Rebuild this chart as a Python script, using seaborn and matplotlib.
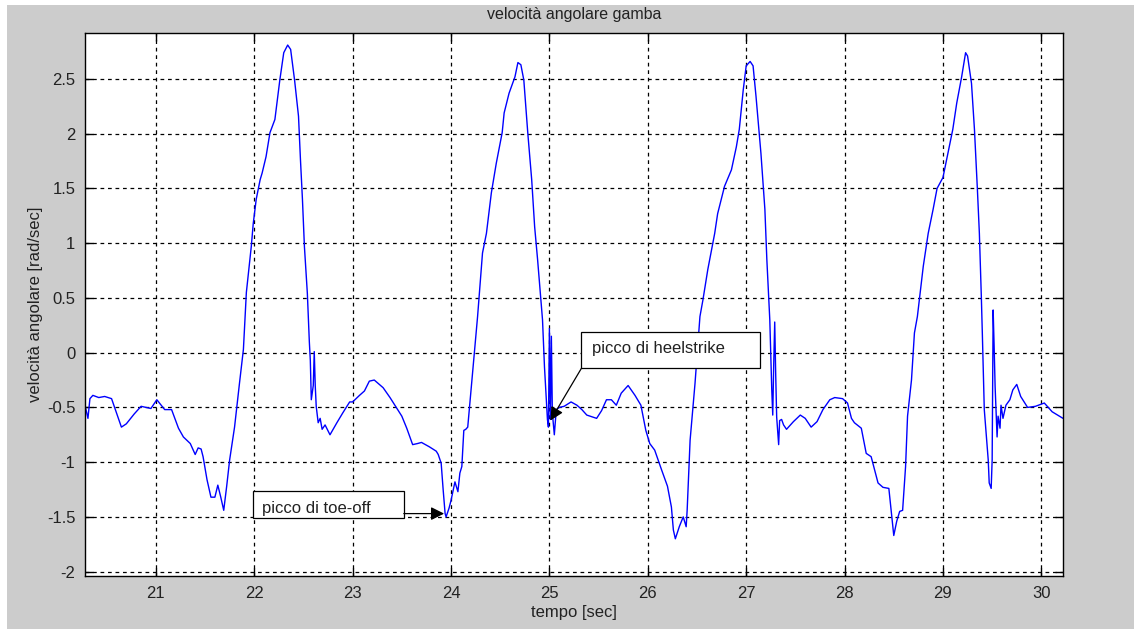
import numpy as np
import pandas as pd
import matplotlib
matplotlib.use('Agg')
import matplotlib.pyplot as plt
from matplotlib.patches import Rectangle
import seaborn as sns

# tempo [sec] e velocita angolare [rad/sec]
tempo = [20.28, 20.31, 20.33, 20.36, 20.42, 20.48, 20.55, 20.60, 20.65, 20.70,
         20.78, 20.85, 20.95, 21.01, 21.09, 21.16, 21.23, 21.28, 21.35, 21.40,
         21.43, 21.46, 21.48, 21.52, 21.56, 21.60, 21.63, 21.66, 21.69, 21.72,
         21.75, 21.80, 21.85, 21.89, 21.92, 21.97, 21.99, 22.02, 22.06, 22.08,
         22.12, 22.16, 22.21, 22.26, 22.30, 22.34, 22.37, 22.41, 22.45, 22.47,
         22.49, 22.51, 22.54, 22.56, 22.57, 22.58, 22.60, 22.61, 22.62, 22.63,
         22.65, 22.67, 22.69, 22.72, 22.77, 22.84, 22.90, 22.97, 23.00, 23.07,
         23.12, 23.17, 23.22, 23.31, 23.38, 23.45, 23.50, 23.55, 23.61, 23.66,
         23.70, 23.78, 23.85, 23.87, 23.90, 23.92, 23.94, 23.95, 23.98, 24.00,
         24.04, 24.07, 24.09, 24.11, 24.13, 24.15, 24.17, 24.21, 24.24, 24.27,
         24.32, 24.36, 24.41, 24.46, 24.52, 24.54, 24.59, 24.65, 24.68, 24.71,
         24.74, 24.78, 24.82, 24.85, 24.88, 24.93, 24.95, 24.98, 24.99, 25.00,
         25.01, 25.02, 25.03, 25.05, 25.07, 25.10, 25.15, 25.22, 25.28, 25.33,
         25.38, 25.48, 25.53, 25.58, 25.63, 25.68, 25.73, 25.80, 25.87, 25.93,
         25.98, 26.02, 26.07, 26.14, 26.20, 26.24, 26.26, 26.28, 26.32, 26.36,
         26.39, 26.40, 26.43, 26.48, 26.53, 26.56, 26.61, 26.68, 26.71, 26.78,
         26.85, 26.90, 26.93, 26.97, 27.00, 27.04, 27.07, 27.10, 27.15, 27.19,
         27.21, 27.24, 27.26, 27.27, 27.28, 27.29, 27.30, 27.31, 27.33, 27.34,
         27.36, 27.38, 27.41, 27.48, 27.55, 27.60, 27.66, 27.72, 27.78, 27.85,
         27.90, 27.98, 28.03, 28.07, 28.10, 28.17, 28.22, 28.27, 28.34, 28.39,
         28.45, 28.48, 28.50, 28.53, 28.56, 28.59, 28.62, 28.64, 28.68, 28.71,
         28.74, 28.80, 28.85, 28.90, 28.94, 29.00, 29.05, 29.10, 29.14, 29.19,
         29.23, 29.25, 29.29, 29.32, 29.35, 29.37, 29.39, 29.40, 29.42, 29.46,
         29.47, 29.49, 29.50, 29.51, 29.52, 29.53, 29.55, 29.56, 29.58, 29.59,
         29.61, 29.64, 29.68, 29.71, 29.75, 29.79, 29.86, 29.94, 30.03, 30.11,
         30.22]
velocita = [-0.48, -0.60, -0.42, -0.39, -0.41, -0.40, -0.42, -0.55, -0.68, -0.65,
            -0.56, -0.49, -0.51, -0.43, -0.52, -0.52, -0.69, -0.77, -0.83, -0.93,
            -0.87, -0.88, -0.95, -1.16, -1.32, -1.32, -1.21, -1.32, -1.44, -1.22,
            -0.98, -0.68, -0.28, 0.03, 0.55, 0.97, 1.18, 1.40, 1.58, 1.64,
            1.79, 2.01, 2.13, 2.49, 2.74, 2.81, 2.77, 2.49, 2.16, 1.76,
            1.40, 0.97, 0.54, 0.10, -0.07, -0.43, -0.30, 0.01, -0.30, -0.49,
            -0.64, -0.60, -0.70, -0.66, -0.75, -0.64, -0.55, -0.45, -0.45, -0.39,
            -0.35, -0.26, -0.25, -0.32, -0.41, -0.51, -0.58, -0.69, -0.84, -0.83,
            -0.82, -0.86, -0.90, -0.93, -1.01, -1.25, -1.47, -1.50, -1.42, -1.35,
            -1.18, -1.27, -1.10, -1.04, -0.71, -0.70, -0.68, -0.28, 0.03, 0.33,
            0.91, 1.09, 1.46, 1.73, 2.01, 2.19, 2.37, 2.52, 2.65, 2.63,
            2.49, 2.01, 1.58, 1.15, 0.85, 0.30, -0.13, -0.61, -0.68, 0.22,
            -0.61, 0.15, -0.55, -0.75, -0.52, -0.50, -0.49, -0.45, -0.48, -0.52,
            -0.57, -0.60, -0.53, -0.43, -0.43, -0.48, -0.37, -0.30, -0.39, -0.48,
            -0.71, -0.83, -0.89, -1.07, -1.22, -1.41, -1.62, -1.70, -1.59, -1.50,
            -1.59, -1.44, -0.80, -0.28, 0.33, 0.48, 0.76, 1.09, 1.27, 1.52,
            1.67, 1.88, 2.04, 2.40, 2.62, 2.66, 2.62, 2.34, 1.82, 1.31,
            0.85, 0.30, -0.34, -0.57, -0.10, 0.28, -0.20, -0.59, -0.84, -0.62,
            -0.61, -0.66, -0.70, -0.63, -0.57, -0.60, -0.68, -0.63, -0.52, -0.43,
            -0.41, -0.42, -0.46, -0.60, -0.64, -0.69, -0.92, -0.95, -1.19, -1.23,
            -1.24, -1.50, -1.67, -1.54, -1.45, -1.44, -1.04, -0.58, -0.25, 0.18,
            0.33, 0.79, 1.09, 1.31, 1.50, 1.60, 1.82, 2.04, 2.28, 2.52,
            2.74, 2.71, 2.46, 2.04, 1.49, 1.09, 0.51, 0.18, -0.52, -0.98,
            -1.19, -1.24, -0.98, 0.39, 0.06, -0.31, -0.77, -0.58, -0.69, -0.48,
            -0.60, -0.48, -0.43, -0.34, -0.29, -0.40, -0.50, -0.49, -0.46, -0.54,
            -0.60]

x_ticks = [21, 22, 23, 24, 25, 26, 27, 28, 29, 30]
y_ticks = [-2, -1.5, -1, -0.5, 0, 0.5, 1, 1.5, 2, 2.5]
y_labels = ['-2', '-1.5', '-1', '-0.5', '0', '0.5', '1', '1.5', '2', '2.5']

sns.set_theme(style='ticks')
plt.rcParams['font.family'] = ['Liberation Sans', 'DejaVu Sans']
plt.rcParams['axes.edgecolor'] = 'black'

df = pd.DataFrame({'tempo': tempo, 'velocita': velocita})

fig = plt.figure(figsize=(11.34, 6.29), dpi=100, facecolor='#cccccc')
# white strips on left and top border, like in the screenshot
fig.patches.append(Rectangle((0, 0), 7 / 1134, 1, transform=fig.transFigure,
                             facecolor='white', edgecolor='none'))
fig.patches.append(Rectangle((0, 1 - 5 / 629), 1, 5 / 629, transform=fig.transFigure,
                             facecolor='white', edgecolor='none'))

ax = fig.add_axes([85 / 1134, 1 - 576 / 629, (1063 - 85) / 1134, (576 - 33) / 629])
ax.set_facecolor('white')

sns.lineplot(data=df, x='tempo', y='velocita', ax=ax, estimator=None, sort=False,
             color='#0000ff', linewidth=1.0)

ax.set_xlim(20.28, 30.22)
ax.set_ylim(-2.04, 2.92)
ax.set_xticks(x_ticks)
ax.set_xticklabels([str(t) for t in x_ticks])
ax.set_yticks(y_ticks)
ax.set_yticklabels(y_labels)

ax.grid(True, color='black', linestyle=(0, (3, 3)), linewidth=0.9)
ax.set_axisbelow(True)
ax.tick_params(direction='in', length=6, width=1, top=True, right=True,
               labelsize=12, colors='black', labelcolor='#222222', pad=7)
for sp in ax.spines.values():
    sp.set_linewidth(1.0)
    sp.set_color('black')

ax.set_title('velocità angolare gamba', fontsize=11.5, color='#222222', pad=10)
ax.set_xlabel('tempo [sec]', fontsize=12, color='#222222', labelpad=3)
ax.set_ylabel('velocità angolare [rad/sec]', fontsize=12, color='#222222', labelpad=3)

# annotation boxes
ax.add_patch(Rectangle((21.986, -1.51), 23.52 - 21.986, 0.247, facecolor='white',
                       edgecolor='black', linewidth=0.9, zorder=4))
ax.text(22.08, -1.42, 'picco di toe-off', fontsize=12, color='#222222',
        va='center', ha='left', zorder=5)
ax.annotate('', xy=(23.93, -1.47), xytext=(23.52, -1.47),
            arrowprops=dict(arrowstyle='-|>', color='black', lw=0.9,
                            mutation_scale=20, shrinkA=0, shrinkB=0), zorder=5)

ax.add_patch(Rectangle((25.326, -0.142), 27.138 - 25.326, 0.335, facecolor='white',
                       edgecolor='black', linewidth=0.9, zorder=4))
ax.text(25.43, 0.04, 'picco di heelstrike', fontsize=12, color='#222222',
        va='center', ha='left', zorder=5)
ax.annotate('', xy=(25.01, -0.62), xytext=(25.326, -0.142),
            arrowprops=dict(arrowstyle='-|>', color='black', lw=0.9,
                            mutation_scale=20, shrinkA=0, shrinkB=0), zorder=5)

plt.savefig('out.png', dpi=100, facecolor=fig.get_facecolor())
